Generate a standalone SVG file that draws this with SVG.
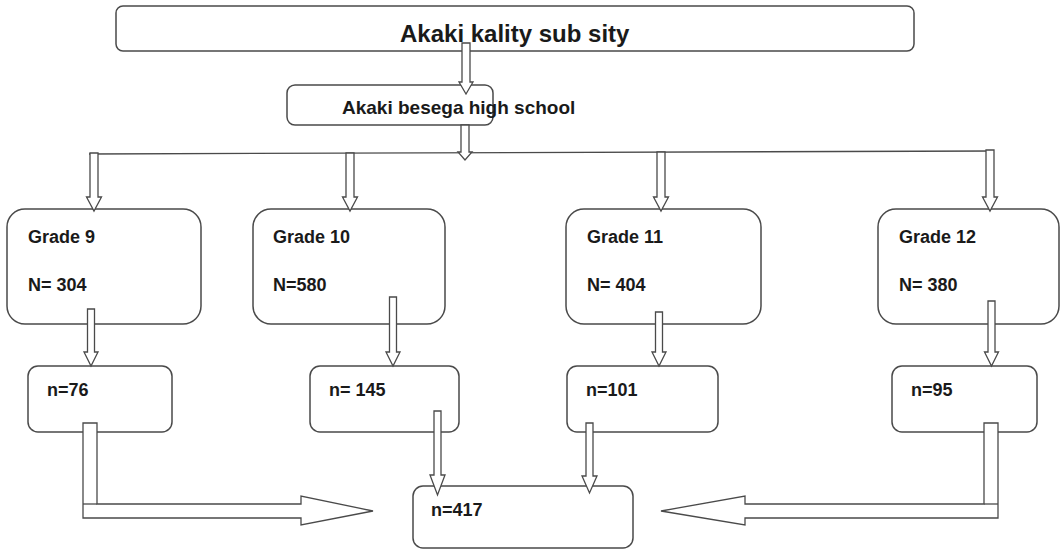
<svg xmlns="http://www.w3.org/2000/svg" width="1061" height="550" viewBox="0 0 1061 550">
<style>
.box{fill:#fff;stroke:#4a4a4a;stroke-width:1.5}
.arr{fill:#fff;stroke:#4a4a4a;stroke-width:1.3;stroke-linejoin:miter}
.ln{fill:none;stroke:#4a4a4a;stroke-width:1.3}
.t{font-family:"Liberation Sans",Arial,sans-serif;font-weight:bold;fill:#1a1a1a}
.g{font-size:18px}
</style>
<rect width="1061" height="550" fill="#fff"/>
<g id="n-subcity">
  <rect class="box" x="116" y="6" width="798" height="45" rx="7"/>
  <text class="t" x="400" y="42" font-size="24">Akaki kality sub sity</text>
</g>
<g id="n-school">
  <rect class="box" x="287" y="85" width="206" height="40" rx="8"/>
  <text class="t" x="342" y="114" font-size="19">Akaki besega high school</text>
</g>
<g id="n-grade9">
  <rect class="box" x="7" y="209" width="194" height="115" rx="18"/>
  <text class="t g" x="28" y="243">Grade 9</text>
  <text class="t g" x="28" y="291">N= 304</text>
</g>
<g id="n-grade10">
  <rect class="box" x="253" y="209" width="192" height="115" rx="18"/>
  <text class="t g" x="273" y="243">Grade 10</text>
  <text class="t g" x="273" y="291">N=580</text>
</g>
<g id="n-grade11">
  <rect class="box" x="566" y="209" width="195" height="115" rx="18"/>
  <text class="t g" x="587" y="243">Grade 11</text>
  <text class="t g" x="587" y="291">N= 404</text>
</g>
<g id="n-grade12">
  <rect class="box" x="878" y="209" width="181" height="115" rx="18"/>
  <text class="t g" x="899" y="243">Grade 12</text>
  <text class="t g" x="899" y="291">N= 380</text>
</g>
<g id="n-s9">
  <rect class="box" x="28" y="366" width="144" height="66" rx="10"/>
  <text class="t g" x="47" y="396">n=76</text>
</g>
<g id="n-s10">
  <rect class="box" x="310" y="366" width="149" height="66" rx="10"/>
  <text class="t g" x="329" y="396">n= 145</text>
</g>
<g id="n-s11">
  <rect class="box" x="567" y="366" width="151" height="66" rx="10"/>
  <text class="t g" x="586" y="396">n=101</text>
</g>
<g id="n-s12">
  <rect class="box" x="892" y="366" width="145" height="66" rx="10"/>
  <text class="t g" x="911" y="396">n=95</text>
</g>
<g id="n-total">
  <rect class="box" x="413" y="486" width="220" height="62" rx="10"/>
  <text class="t g" x="431" y="516">n=417</text>
</g>
<g id="connectors">
  <polygon class="arr" points="462,43 470,43 470,82 473,82 466,94 459,82 462,82"/>
  <line class="ln" x1="89" y1="154" x2="994" y2="151"/>
  <polygon class="arr" points="461,125 469,125 469,152 472,152 465,160 458,152 461,152"/>
  <polygon class="arr" points="90,153 98,153 98,197 101.5,197 94,211 86.5,197 90,197"/>
  <polygon class="arr" points="346,153 354,153 354,197 357.5,197 350,211 342.5,197 346,197"/>
  <polygon class="arr" points="657,152 665,152 665,197 668.5,197 661,211 653.5,197 657,197"/>
  <polygon class="arr" points="986,150 994,150 994,197 997.5,197 990,211 982.5,197 986,197"/>
  <polygon class="arr" points="87.5,309 94.5,309 94.5,352 98,352 91,366 84,352 87.5,352"/>
  <polygon class="arr" points="389.5,297 396.5,297 396.5,352 400,352 393,366 386,352 389.5,352"/>
  <polygon class="arr" points="655.5,312 662.5,312 662.5,352 666,352 659,366 652,352 655.5,352"/>
  <polygon class="arr" points="988,301 995,301 995,352 998.5,352 991.5,366 984.5,352 988,352"/>
  <polygon class="arr" points="434,411 441,411 441,475 445,475 437.5,495 430,475 434,475"/>
  <polygon class="arr" points="586,423 593,423 593,476 597,476 589.5,493 582,476 586,476"/>
  <polygon class="arr" points="83,423 97,423 97,504 301,504 301,496 373,511 301,525 301,518 83,518"/>
  <line class="ln" x1="83" y1="504" x2="97" y2="504"/>
  <polygon class="arr" points="984,423 998,423 998,518 745,518 745,525 661,511 745,496 745,504 984,504"/>
  <line class="ln" x1="984" y1="504" x2="998" y2="504"/>
</g>
</svg>
